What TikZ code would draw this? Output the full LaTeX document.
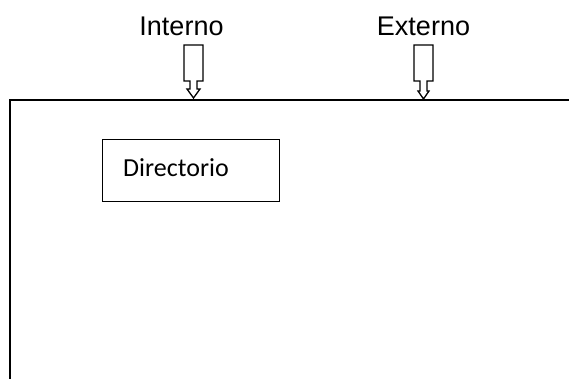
\documentclass[tikz,border=0pt]{standalone}
\usepackage{fontspec}
\setmainfont{Liberation Sans}
\newfontfamily\carlito{Carlito}
\begin{document}
\begin{tikzpicture}[x=1pt,y=-1pt,
  frame/.style={line width=2pt},
  box/.style={draw,line width=1.3pt},
  blockarrow/.style={draw,line width=1.3pt,line join=miter,fill=white},
  toplabel/.style={font=\fontsize{27}{30}\selectfont,anchor=base,inner sep=0pt},
  boxlabel/.style={font=\carlito\fontsize{26}{30}\selectfont,anchor=base west,inner sep=0pt}]
\useasboundingbox (0,0) rectangle (569,379);

% open frame: top edge and left edge
\coordinate (fl) at (10,379);
\coordinate (fc) at (10,100);
\coordinate (fr) at (569,100);
\draw[frame] (fl) -- (fc) -- (fr);

% labels above the frame
\node[toplabel] (interno) at (181.5,36) {Interno};
\node[toplabel] (externo) at (423.5,36) {Externo};

% block arrows pointing down onto the frame
\draw[blockarrow] (184,45) -- (203,45) -- (203,81) -- (197,81) -- (197,89)
  -- (200,89) -- (193.5,98) -- (187,89) -- (190,89) -- (190,81) -- (184,81) -- cycle;
\draw[blockarrow] (414,45) -- (433,45) -- (433,81) -- (427,81) -- (427,91)
  -- (429,91) -- (423.5,99) -- (418,91) -- (420,91) -- (420,81) -- (414,81) -- cycle;
\draw[frame] (fc) -- (fr);

% inner box
\node[box,minimum width=177pt,minimum height=62pt,anchor=north west,inner sep=0pt] (dirbox) at (102,139) {};
\node[boxlabel] (directorio) at (123,177) {Directorio};
\end{tikzpicture}
\end{document}
